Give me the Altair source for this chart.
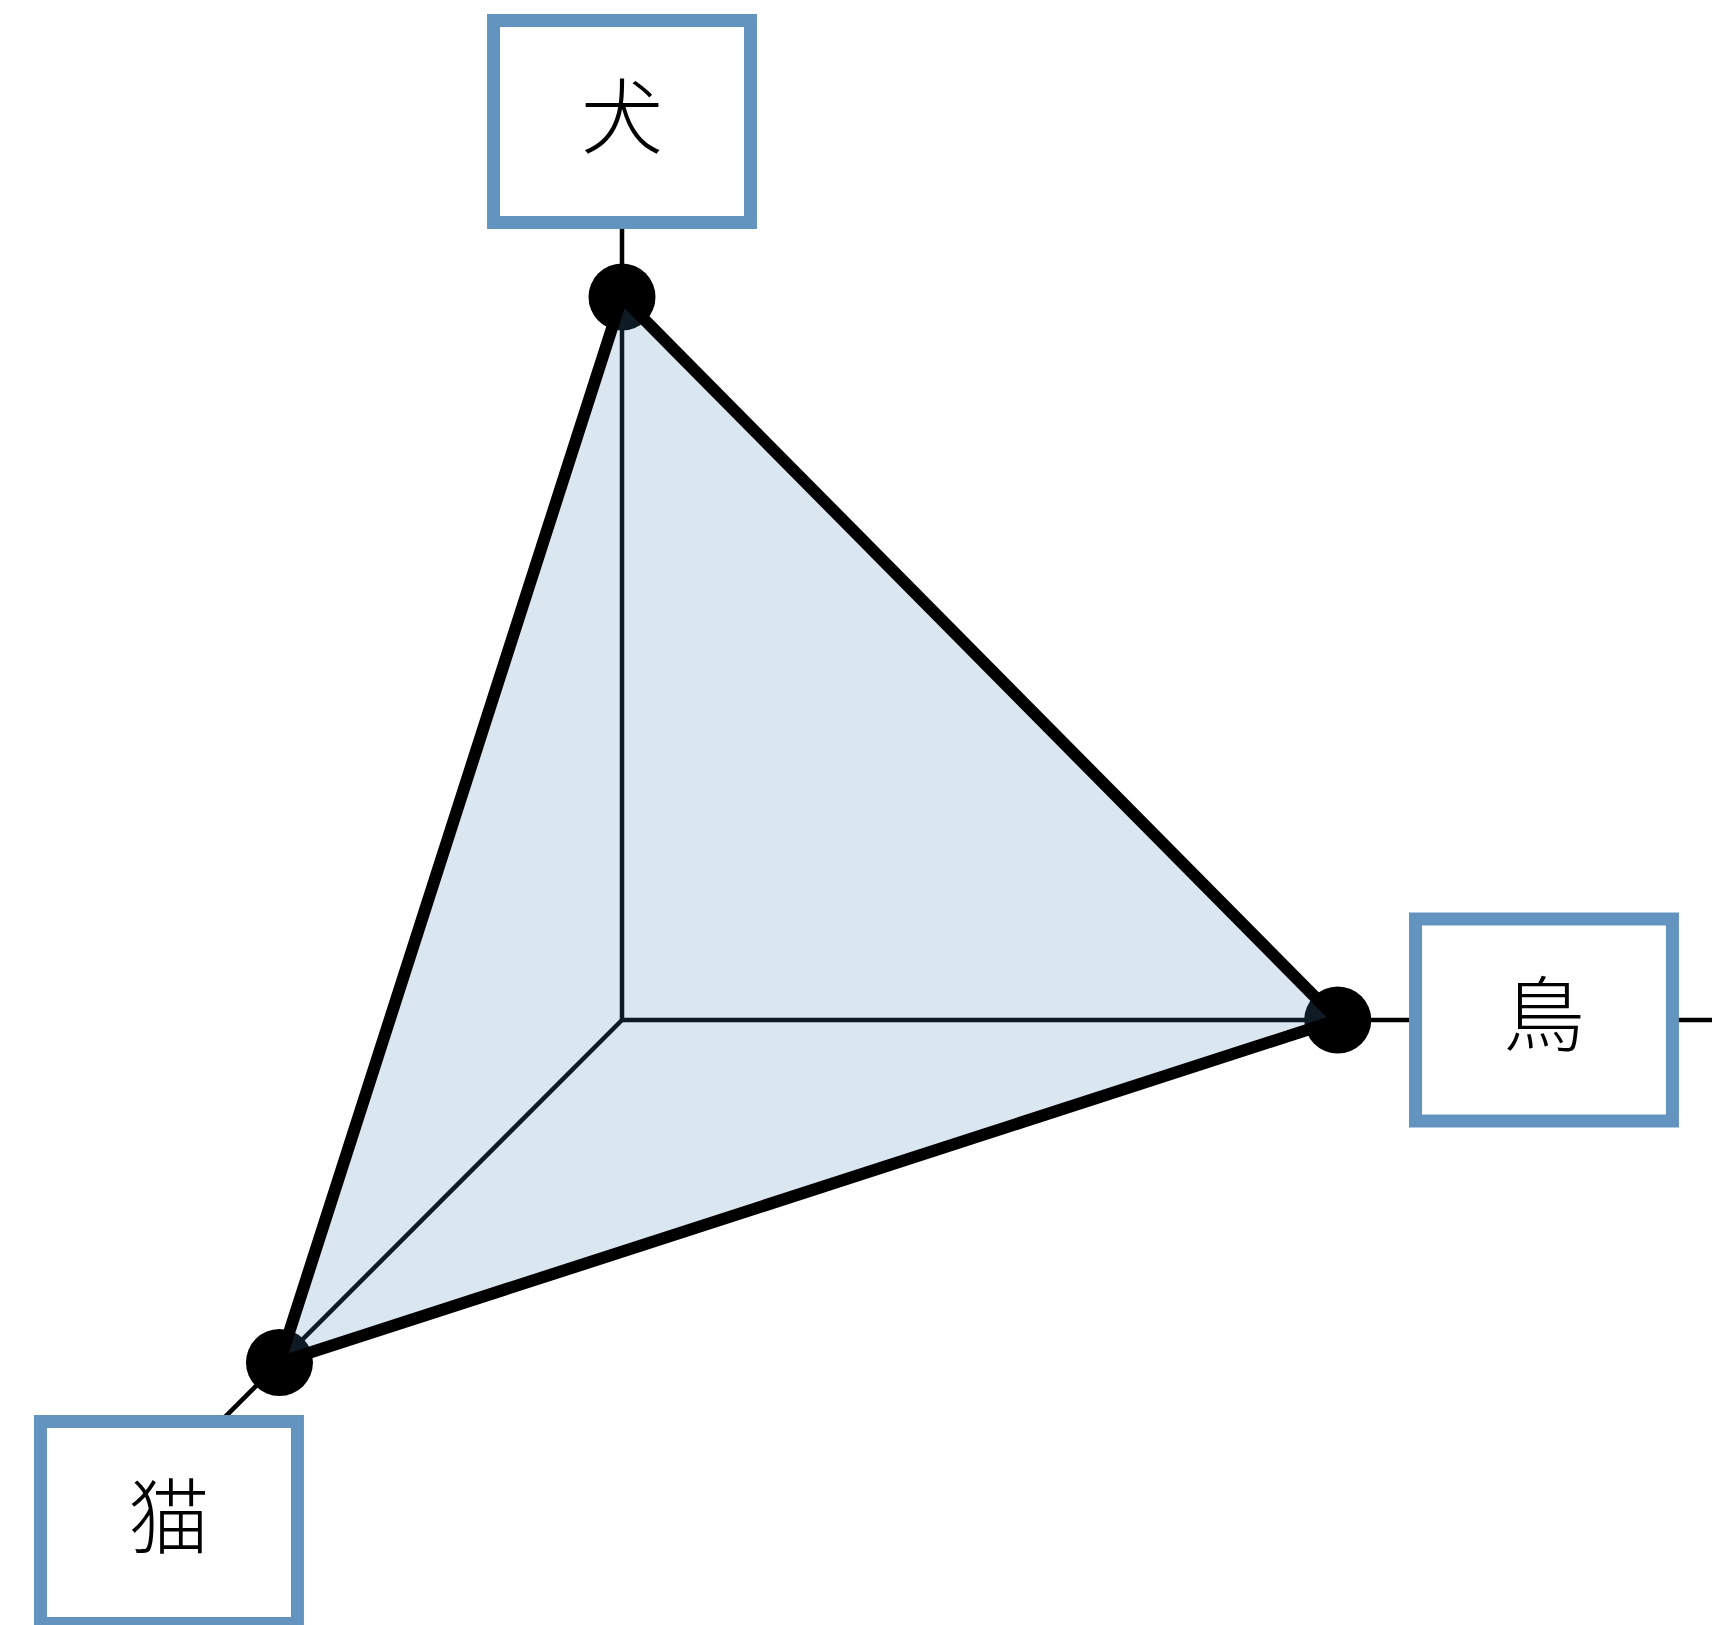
import math
import altair as alt
import pandas as pd

# ---- data ----
categories = ["犬", "鳥", "猫"]
values = [1.0, 0.99, 0.67]

# ---- layout (projection of the three axes) ----
directions = {"犬": (0.0, 1.0), "鳥": (1.0, 0.0), "猫": (-math.cos(math.pi / 4), -math.sin(math.pi / 4))}
axis_len = {"犬": 1.2427, "鳥": 1.5145, "猫": 0.983}
label_pos = {"犬": (0.0, 1.2427), "鳥": (1.2752, 0.0), "猫": (-0.6266, -0.695)}
half_w, half_h = 0.1777, 0.1397
unit = 723.0
origin_px = (622.0, 1020.0)
W, H = 1704, 1617
xdom = [(8 - origin_px[0]) / unit, (8 + W - origin_px[0]) / unit]
ydom = [(origin_px[1] - 8 - H) / unit, (origin_px[1] - 8) / unit]

xs = alt.Scale(domain=xdom, nice=False, zero=False)
ys = alt.Scale(domain=ydom, nice=False, zero=False)

pts = []
for i, (c, v) in enumerate(zip(categories, values)):
    dx, dy = directions[c]
    pts.append({"cat": c, "x": v * dx, "y": v * dy, "order": i})
pts_df = pd.DataFrame(pts)
poly_df = pd.concat([pts_df, pts_df.iloc[[0]].assign(order=len(pts))], ignore_index=True)

axes_df = pd.DataFrame([
    {"cat": c, "x": 0.0, "y": 0.0,
     "x2": axis_len[c] * directions[c][0], "y2": axis_len[c] * directions[c][1]}
    for c in categories
])

boxes_df = pd.DataFrame([
    {"cat": c, "cx": label_pos[c][0], "cy": label_pos[c][1],
     "x": label_pos[c][0] - half_w, "x2": label_pos[c][0] + half_w,
     "y": label_pos[c][1] - half_h, "y2": label_pos[c][1] + half_h}
    for c in categories
])

X = lambda f: alt.X(f, type="quantitative", scale=xs, axis=None)
Y = lambda f: alt.Y(f, type="quantitative", scale=ys, axis=None)

axes = alt.Chart(axes_df).mark_rule(color="black", strokeWidth=4.5).encode(
    x=X("x"), y=Y("y"), x2="x2", y2="y2"
)

points = alt.Chart(pts_df).mark_point(filled=True, shape="circle", size=4489, color="black", opacity=1).encode(
    x=X("x"), y=Y("y")
)

tri = alt.Chart(poly_df).mark_line(
    fill="steelblue", fillOpacity=0.2, stroke="black", strokeWidth=12, strokeOpacity=1
).encode(x=X("x"), y=Y("y"), order="order:Q")

boxes = alt.Chart(boxes_df).mark_rect(fill="white", stroke="#6394c0", strokeWidth=13).encode(
    x=X("x"), x2="x2", y=Y("y"), y2="y2"
)

labels = alt.Chart(boxes_df).mark_text(
    font="Noto Sans CJK JP", fontSize=82, fontWeight=300, color="black", align="center", baseline="middle"
).encode(x=X("cx"), y=Y("cy"), text="cat:N")

chart = alt.layer(axes, points, tri, boxes, labels).properties(
    width=W, height=H, padding=0, autosize=alt.AutoSizeParams(type="none")
).configure_view(stroke=None)

chart.save("out.html", embed_options={"renderer": "svg", "actions": False})
